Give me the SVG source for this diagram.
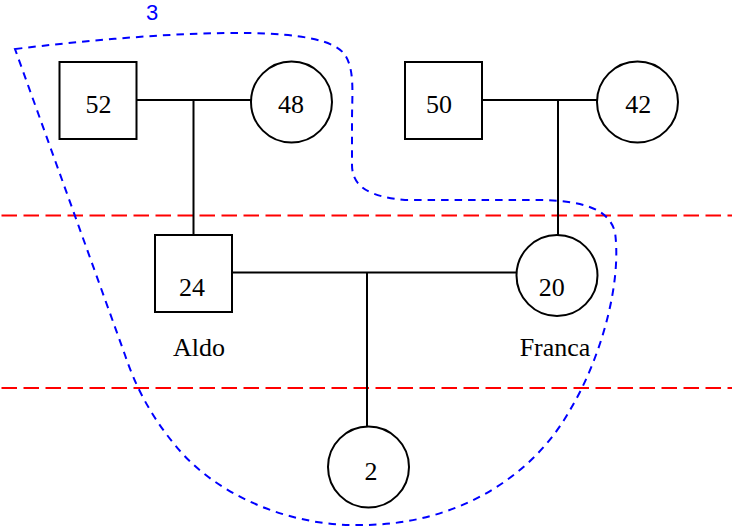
<svg xmlns="http://www.w3.org/2000/svg" width="732" height="527" viewBox="0 0 732 527">
<style>
.n{fill:#fff;stroke:#000;stroke-width:2}
.t{font-family:"Liberation Serif",serif;font-size:26px;fill:#000;text-anchor:middle}
.c{fill:none;stroke:#000;stroke-width:2}
.sep{stroke:#f00;stroke-width:2;stroke-dasharray:15.5 6.5}
</style>
<rect width="732" height="527" fill="#fff"/>
<g id="separators">
<line class="sep" x1="1.5" y1="215.5" x2="732" y2="215.5"/>
<line class="sep" x1="1.5" y1="388" x2="732" y2="388"/>
</g>
<g id="connectors">
<path class="c" d="M136.5,100 H251 M193.5,100 V235"/>
<path class="c" d="M482,100 H597 M558,100 V235"/>
<path class="c" d="M232,272.5 H522 M367,272.5 V426.5"/>
</g>
<g id="n52"><rect class="n" x="59.5" y="62" width="77" height="77"/><text class="t" x="98.5" y="112.5">52</text></g>
<g id="n48"><circle class="n" cx="291.5" cy="102" r="40.5"/><text class="t" x="291" y="112.5">48</text></g>
<g id="n50"><rect class="n" x="405" y="62" width="77" height="77"/><text class="t" x="439" y="113">50</text></g>
<g id="n42"><circle class="n" cx="637.5" cy="102" r="40.5"/><text class="t" x="638.3" y="113">42</text></g>
<g id="n24"><rect class="n" x="155" y="235" width="77" height="77"/><text class="t" x="192" y="296">24</text><text class="t" x="199" y="356">Aldo</text></g>
<g id="n20"><circle class="n" cx="557" cy="275.5" r="40.5"/><text class="t" x="551.7" y="296">20</text><text class="t" x="555" y="356">Franca</text></g>
<g id="n2"><circle class="n" cx="368.5" cy="467" r="40.5"/><text class="t" x="371" y="480">2</text></g>
<g id="group3">
<path fill="none" stroke="#00f" stroke-width="2" stroke-dasharray="7.5 6" d="M15,49 C90,40 180,32 250,33 C300,34 335,40 345,55 C355,70 352,95 352,120 L352,165 C352,188 372,197 405,200 L540,200 C580,201 608,207 615,232 C622,285 600,360 570,410 C532,478 455,525 362,525 C290,527 215,495 175,445 C150,415 135,385 125,355 Z"/>
<text x="152" y="19.5" font-family="Liberation Sans,Arial,sans-serif" font-size="22" fill="#00f" text-anchor="middle">3</text>
</g>
</svg>
